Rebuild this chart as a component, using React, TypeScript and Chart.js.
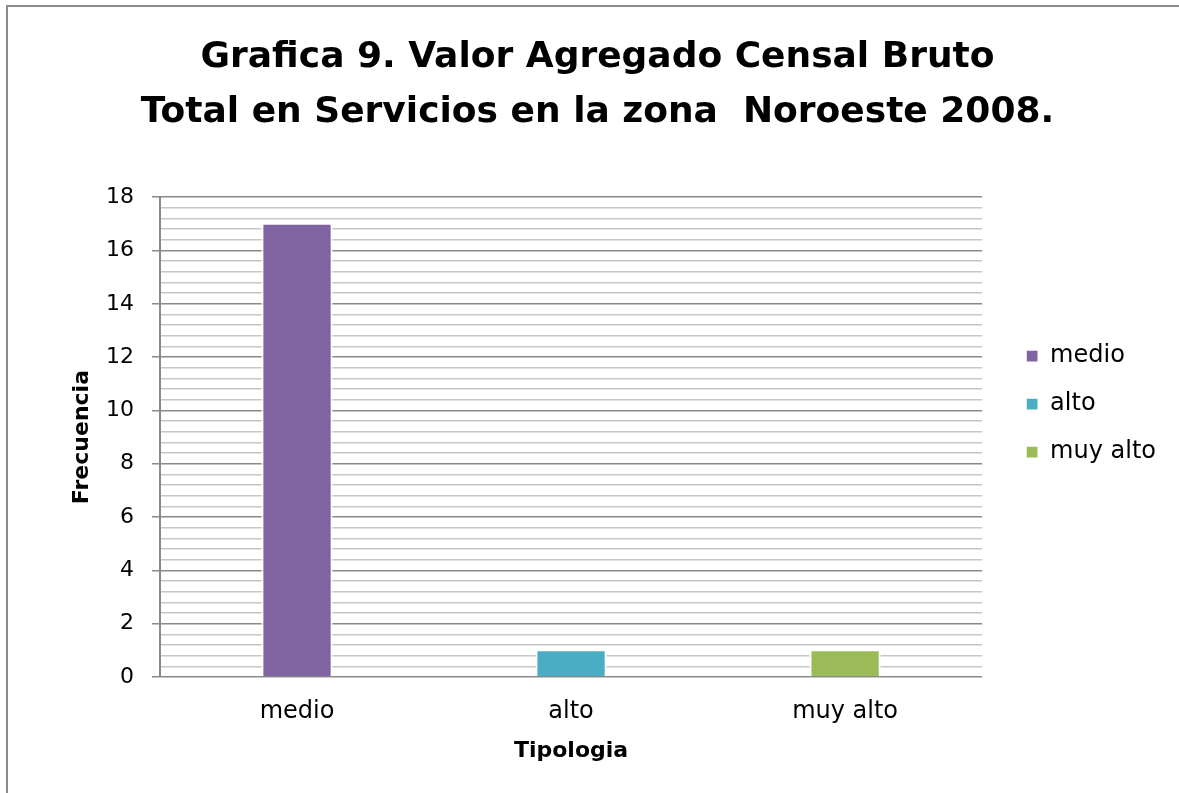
import React, { useEffect, useRef } from "react";
import { Chart, registerables } from "chart.js";

Chart.register(...registerables);

const titleLines = ["Grafica 9. Valor Agregado Censal Bruto", "Total en Servicios en la zona  Noroeste 2008."];
const categories = ["medio", "alto", "muy alto"];
const seriesNames = ["medio", "alto", "muy alto"];
const seriesValues = [
  [17, null, null],
  [null, 1, null],
  [null, null, 1],
];
const seriesColors = ["#8064A2", "#4BACC6", "#9BBB59"];
const yMin = 0;
const yMax = 18;
const yMinorStep = 0.4;
const yMajorStep = 2;
const xTitle = "Tipologia";
const yTitle = "Frecuencia";

const FONT = "'DejaVu Sans', sans-serif";

const isMajor = (v: number) => Math.abs(v / yMajorStep - Math.round(v / yMajorStep)) < 1e-6;

export default function App() {
  const ref = useRef<HTMLCanvasElement | null>(null);

  useEffect(() => {
    if (!ref.current) return;
    const chart = new Chart(ref.current, {
      type: "bar",
      data: {
        labels: categories,
        datasets: seriesNames.map((name, i) => ({
          label: name,
          data: seriesValues[i],
          backgroundColor: seriesColors[i],
          borderColor: "#ffffff",
          borderWidth: { left: 2, right: 2, top: 1, bottom: 0 },
          grouped: false,
          barPercentage: 0.26,
          categoryPercentage: 1,
        })) as any,
      },
      options: {
        animation: false,
        responsive: false,
        devicePixelRatio: 1,
        layout: { padding: { left: 29, right: 13, top: 12, bottom: 25 } },
        plugins: {
          title: {
            display: true,
            text: titleLines,
            color: "#000",
            font: { family: FONT, size: 36, weight: "bold", lineHeight: 1.53 },
            padding: { top: 18, bottom: 57 },
          },
          legend: {
            position: "right",
            title: {
              display: true,
              text: " ",
              font: { family: FONT, size: 20, lineHeight: 1.2 },
              padding: 2,
            },
            labels: {
              boxWidth: 12,
              boxHeight: 12,
              padding: 24,
              color: "#000",
              font: { family: FONT, size: 24 },
            },
          },
          tooltip: { enabled: false },
        },
        scales: {
          x: {
            grid: { display: false, drawTicks: false },
            border: { display: false },
            ticks: { color: "#000", font: { family: FONT, size: 24 }, padding: 20 },
            title: {
              display: true,
              text: xTitle,
              color: "#000",
              font: { family: FONT, size: 22, weight: "bold" },
              padding: { top: 4, bottom: 4 },
            },
            afterFit: (s: any) => {
              s.height = 91;
            },
          },
          y: {
            min: yMin,
            max: yMax,
            border: { display: true, color: "#898989", width: 2 },
            grid: {
              color: (c: any) => (c.tick && isMajor(c.tick.value) ? "#898989" : "#c6c6c6"),
              tickColor: (c: any) => (c.tick && isMajor(c.tick.value) ? "#898989" : "rgba(0,0,0,0)"),
              lineWidth: 1.5,
              tickLength: 8,
            },
            ticks: {
              stepSize: yMinorStep,
              autoSkip: false,
              color: "#000",
              font: { family: FONT, size: 22 },
              padding: 18,
              callback: (v: any) => (isMajor(Number(v)) ? String(Math.round(Number(v))) : ""),
            },
            title: {
              display: true,
              text: yTitle,
              color: "#000",
              font: { family: FONT, size: 22, weight: "bold" },
              padding: { top: 40, bottom: 4 },
            },
            afterFit: (s: any) => {
              s.width = 131;
            },
          },
          y2: {
            type: "linear",
            position: "right",
            display: true,
            grid: { display: false, drawOnChartArea: false, drawTicks: false },
            border: { display: false },
            ticks: { display: false },
            afterFit: (s: any) => {
              s.width = 20;
            },
          },
        },
      } as any,
    });
    return () => chart.destroy();
  }, []);

  return (
    <div style={{ position: "fixed", left: 0, top: 0, width: 1179, height: 793, background: "#fff", overflow: "hidden" }}>
      <canvas ref={ref} width={1179} height={793} style={{ position: "absolute", left: 0, top: 0, width: 1179, height: 793 }} />
      <div
        style={{
          position: "absolute",
          left: 6,
          top: 5,
          width: 1300,
          height: 1000,
          border: "2px solid #8c8c8c",
          pointerEvents: "none",
        }}
      />
    </div>
  );
}
